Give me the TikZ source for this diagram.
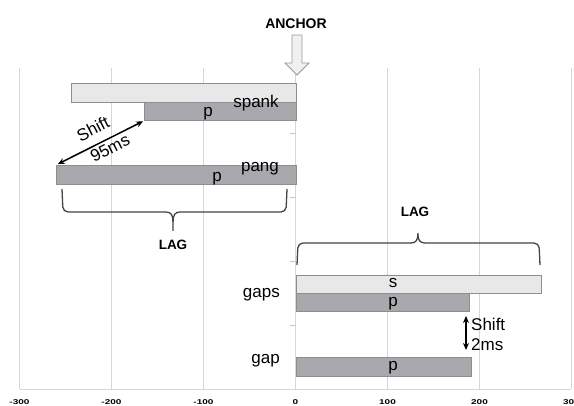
\documentclass[tikz,border=0pt]{standalone}
\usepackage{fontspec}
\setmainfont{Liberation Sans}
\usetikzlibrary{arrows.meta}
\definecolor{lightbar}{HTML}{E8E8E8}
\definecolor{darkbar}{HTML}{A9A9AD}
\definecolor{barline}{HTML}{8E8E8E}
\definecolor{gridc}{HTML}{D6D6D6}
\definecolor{bracec}{HTML}{444444}
\begin{document}
\begin{tikzpicture}[x=1pt,y=-1pt,
  barbase/.style={draw=barline,line width=0.8pt,inner sep=0pt,anchor=north west},
  lbar/.style={barbase,fill=lightbar},
  dbar/.style={barbase,fill=darkbar},
  lbl/.style={font=\fontsize{17}{17}\selectfont,inner sep=0pt,anchor=base},
  boldlbl/.style={font=\bfseries\fontsize{13.5}{13.5}\selectfont,inner sep=0pt},
  ticklbl/.style={font=\bfseries\fontsize{10}{10}\selectfont,inner sep=0pt},
  gridline/.style={draw=gridc,line width=0.8pt},
  bracepath/.style={draw=bracec,line width=1.3pt},
  shiftarrow/.style={{Stealth[length=7pt,width=6pt]}-{Stealth[length=7pt,width=6pt]},line width=1.5pt,black}]
\useasboundingbox (0,0) rectangle (574,406);
% grid
\foreach \v in {-300,-200,-100,0,100,200,300}{
  \draw[gridline] ({295.5+0.92*\v},68) -- ({295.5+0.92*\v},389);
  \node[ticklbl] at ({295.5+0.92*\v},402) {\scalebox{1}[0.7]{\v}};
}
\draw[gridline] (20,389) -- (571,389);
\foreach \y in {133,197,261,325}{\draw[draw=gray!45,line width=0.7pt] (290,\y) -- (296,\y);}
% anchor arrow
\node[boldlbl,font=\bfseries\fontsize{14}{14}\selectfont] (anchor) at (296,24) {ANCHOR};
\draw[fill=gray!12,draw=gray!80,line width=0.9pt] (292,35) -- (302,35) -- (302,63) -- (309,63) -- (297,75) -- (285,63) -- (292,63) -- cycle;
% bars
\node[lbar,minimum width=225pt,minimum height=19pt] (spankS) at (71,83) {};
\node[dbar,minimum width=152pt,minimum height=18pt] (spankP) at (144,102) {};
\node[dbar,minimum width=240pt,minimum height=19pt] (pangP) at (56,165) {};
\node[lbar,minimum width=245pt,minimum height=18pt] (gapsS) at (296,275) {};
\node[dbar,minimum width=173pt,minimum height=18pt] (gapsP) at (296,293) {};
\node[dbar,minimum width=175pt,minimum height=19pt] (gapP) at (296,357) {};
% labels
\node[lbl] (spank) at (256,108) {spank};
\node[lbl] (p1) at (208,117) {p};
\node[lbl] (pang) at (260,172) {pang};
\node[lbl] (p2) at (217,182) {p};
\node[lbl] (s3) at (393,288) {s};
\node[lbl] (p3) at (393,307) {p};
\node[lbl] (p4) at (393,371) {p};
\node[lbl,anchor=base east] (gaps) at (280,298) {gaps};
\node[lbl,anchor=base east] (gap) at (280,364) {gap};
% shift 95ms
\draw[shiftarrow,shorten <=2pt,shorten >=1pt] (pangP.north west) -- (spankP.south west);
\node[lbl,anchor=center,rotate=27] (shiftA) at (93,129) {Shift};
\node[lbl,anchor=center,rotate=27] (msA) at (110,148) {95ms};
% shift 2ms
\coordinate (s2top) at (466,316);
\coordinate (s2bot) at (466,350);
\draw[shiftarrow] (s2top) -- (s2bot);
\node[lbl,anchor=base west] (shiftB) at (471,331) {Shift};
\node[lbl,anchor=base west] (msB) at (471,351) {2ms};
% left brace
\draw[bracepath,rounded corners=5pt] (62,189) -- (63,212) -- (162,212);
\draw[bracepath] (162,212) -- (166,212) .. controls (171,212) and (173,215) .. (173,222) -- (173,231);
\draw[bracepath,rounded corners=5pt] (287,189) -- (286,212) -- (184,212);
\draw[bracepath] (184,212) -- (180,212) .. controls (175,212) and (173,215) .. (173,222);
\node[boldlbl] (lagL) at (173,245) {LAG};
% right brace
\draw[bracepath,rounded corners=5pt] (297,265) -- (298,243) -- (407,243);
\draw[bracepath] (407,243) -- (411,243) .. controls (416,243) and (418,240) .. (418,233);
\draw[bracepath,rounded corners=5pt] (540,265) -- (539,243) -- (429,243);
\draw[bracepath] (429,243) -- (425,243) .. controls (420,243) and (418,240) .. (418,235);
\node[boldlbl] (lagR) at (415,212) {LAG};
\end{tikzpicture}
\end{document}
